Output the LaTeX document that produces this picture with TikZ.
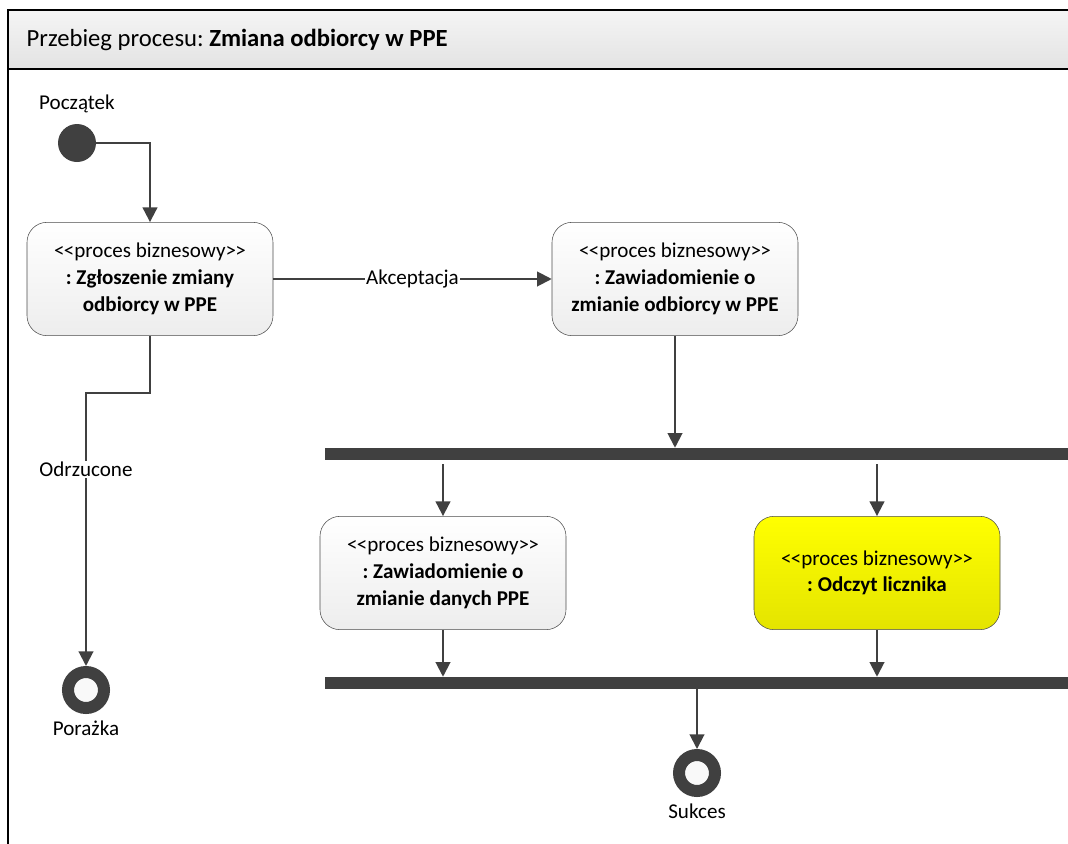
\documentclass[tikz,border=0pt]{standalone}
\usepackage{fontspec}
\setmainfont{Carlito}
\usetikzlibrary{arrows.meta,positioning}
\frenchspacing

\definecolor{umldark}{HTML}{404040}
\definecolor{umlyellow}{HTML}{FFFF00}
\definecolor{umlyellowdark}{HTML}{E4E400}

\newcommand{\stereotype}[1]{<\kern-0.5pt<#1>\kern-0.5pt>}

\tikzset{
	activity/.style={draw=gray!60!black, rounded corners=15pt,
		minimum width=184.5pt, minimum height=85pt, align=center,
		top color=white, bottom color=gray!14,
		font=\fontsize{15.8}{20}\selectfont},
	hotactivity/.style={activity, top color=umlyellow, bottom color=umlyellowdark},
	initial/.style={circle, fill=umldark, minimum size=28.5pt, inner sep=0pt},
	final/.style={circle, draw=umldark, line width=9pt, fill=gray!5,
		minimum size=27pt, inner sep=0pt},
	syncbar/.style={rectangle, fill=umldark, minimum width=562pt,
		minimum height=9pt, inner sep=0pt, anchor=west},
	flow/.style={draw=umldark, line width=1.5pt,
		-{Triangle[width=11pt,length=11pt]}},
	caption/.style={font=\fontsize{15.8}{18}\selectfont, inner sep=1pt}
}

\begin{document}
\begin{tikzpicture}[x=0.75pt, y=-0.75pt]
\useasboundingbox (0,0) rectangle (1068,843);

% frame
\draw[line width=1.5pt, top color=gray!8, bottom color=gray!22]
	(8,10) rectangle (1080,69);
\draw[line width=1.2pt] (8,69) -- (8,850);
\node[anchor=west, font=\fontsize{18.5}{22}\selectfont] (title) at (22,40)
	{Przebieg procesu: \textbf{Zmiana odbiorcy w PPE}};

\node[initial] (start) at (77,143) {};
\node[caption, above=7pt of start] (startlabel) {Początek};

\node[activity] (zgloszenie) at (150,279)
	{\stereotype{proces biznesowy}\\\textbf{: Zgłoszenie zmiany}\\\textbf{odbiorcy w PPE}};
\node[activity] (zawiadomienie) at (675,279)
	{\stereotype{proces biznesowy}\\\textbf{: Zawiadomienie o}\\\textbf{zmianie odbiorcy w PPE}};

\node[syncbar] (fork) at (325,454) {};

\node[activity] (danych) at (443,573)
	{\stereotype{proces biznesowy}\\\textbf{: Zawiadomienie o}\\\textbf{zmianie danych PPE}};
\node[hotactivity] (odczyt) at (877,573)
	{\stereotype{proces biznesowy}\\\textbf{: Odczyt licznika}};

\node[syncbar] (join) at (325,683) {};

\node[final] (porazka) at (86,690) {};
\node[caption, below=4pt of porazka] (porazkalabel) {Porażka};
\node[final] (sukces) at (697,773) {};
\node[caption, below=4pt of sukces] (sukceslabel) {Sukces};

\draw[flow] (start) -| (zgloszenie.north);
\draw[flow] (zgloszenie.east) -- node[caption, fill=white] {Akceptacja}
	(zawiadomienie.west);
\draw[flow] (zgloszenie.south) -- ++(0,57) -| node[caption, fill=white, pos=0.64] {Odrzucone}
	(porazka.north);
\draw[flow] (zawiadomienie.south) -- (zawiadomienie.south |- fork.north);
\draw[flow, shorten <=3pt] (fork.south -| danych.north) -- (danych.north);
\draw[flow, shorten <=3pt] (fork.south -| odczyt.north) -- (odczyt.north);
\draw[flow] (danych.south) -- (danych.south |- join.north);
\draw[flow] (odczyt.south) -- (odczyt.south |- join.north);
\draw[flow] (join.south -| sukces.north) -- (sukces.north);

\end{tikzpicture}
\end{document}
